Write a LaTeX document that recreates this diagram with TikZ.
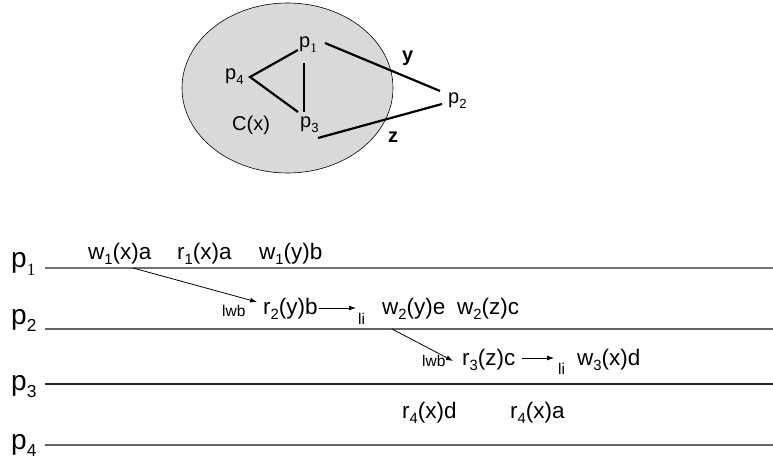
\documentclass[tikz,border=0pt]{standalone}
\usepackage{fontspec}
\usepackage{graphicx}
\setmainfont{Liberation Sans}
\newfontfamily\serifone{Liberation Serif}
\usetikzlibrary{arrows.meta,shapes.geometric}
\newcommand\sbs[1]{\raisebox{-0.25em}{\scalebox{0.66}{#1}}}
\newcommand\sbp[1]{\raisebox{-0.28em}{\scalebox{0.62}{#1}}}
\definecolor{regfill}{HTML}{D9D9D9}
\begin{document}
\begin{tikzpicture}[x=1pt,y=-1pt,
  ev/.style={inner sep=0pt,anchor=base west,font=\fontsize{22.5}{22.5}\selectfont},
  sm/.style={inner sep=0pt,anchor=base west,font=\fontsize{15.5}{15.5}\selectfont},
  pl/.style={inner sep=0pt,anchor=base west,font=\fontsize{28}{28}\selectfont},
  gl/.style={inner sep=0pt,anchor=base west,font=\fontsize{20}{20}\selectfont},
  edge/.style={line width=2.2pt},
  tl/.style={line width=1.3pt},
  arr/.style={line width=0.8pt,-{Latex[length=7pt,width=5pt]}}]
\useasboundingbox (0,0) rectangle (773,462);

% region C(x)
\node[ellipse,draw=black,line width=0.6pt,fill=regfill,minimum width=211pt,minimum height=170pt,inner sep=0pt] (reg) at (287.5,88) {};

% graph labels
\node[gl] (gp1) at (299,48) {p\sbs{\serifone 1}};
\node[gl] (gp4) at (225,80) {p\sbs{4}};
\node[gl] (gp3) at (300,128) {p\sbs{3}};
\node[gl] (gp2) at (448,104) {p\sbs{2}};
\node[gl] (gcx) at (232,131) {C(x)};
\node[gl,font=\fontsize{20}{20}\selectfont\bfseries] (gy) at (402,62) {y};
\node[gl,font=\fontsize{20}{20}\selectfont\bfseries] (gz) at (388,143) {z};

% graph edges
\coordinate (e14a) at (298,50);
\coordinate (e4) at (250,77);
\coordinate (e43b) at (298,112);
\coordinate (e13a) at (304,63);
\coordinate (e13b) at (304,112);
\coordinate (e12a) at (325,43);
\coordinate (e12b) at (440,91);
\coordinate (e32a) at (318,138);
\coordinate (e32b) at (442,104);
\draw[edge] (e14a) -- (e4) -- (e43b);
\draw[edge] (e13a) -- (e13b);
\draw[edge] (e12a) -- (e12b);
\draw[edge] (e32a) -- (e32b);

% process labels
\node[pl] (P1) at (11,268) {p\sbp{\serifone 1}};
\node[pl] (P2) at (11,324) {p\sbp{2}};
\node[pl] (P3) at (11,390) {p\sbp{3}};
\node[pl] (P4) at (11,449) {p\sbp{4}};

% time lines
\coordinate (l1s) at (45,268); \coordinate (l1e) at (773,268);
\coordinate (l2s) at (45,329); \coordinate (l2e) at (773,329);
\coordinate (l3s) at (45,384); \coordinate (l3e) at (773,384);
\coordinate (l4s) at (45,445); \coordinate (l4e) at (773,445);
\draw[tl,color=black!55] (l1s) -- (l1e);
\draw[tl,color=black!60] (l2s) -- (l2e);
\draw[tl,color=black!85] (l3s) -- (l3e);
\draw[tl,color=black!60] (l4s) -- (l4e);

% p1 events
\node[ev] (w1xa) at (88,259) {w\sbs{1}(x)a};
\node[ev] (r1xa) at (177,259) {r\sbs{1}(x)a};
\node[ev] (w1yb) at (259,259) {w\sbs{1}(y)b};

% p2 events
\node[sm] (lwb2) at (222,316) {lwb};
\node[ev] (r2yb) at (263,314) {r\sbs{2}(y)b};
\node[sm] (li2) at (358,324) {li};
\node[ev] (w2ye) at (382,314) {w\sbs{2}(y)e};
\node[ev] (w2zc) at (457,314) {w\sbs{2}(z)c};

% p3 events
\node[sm] (lwb3) at (422,366) {lwb};
\node[ev] (r3zc) at (462,365) {r\sbs{3}(z)c};
\node[sm] (li3) at (558,374) {li};
\node[ev] (w3xd) at (577,365) {w\sbs{3}(x)d};

% p4 events
\node[ev] (r4xd) at (402,418) {r\sbs{4}(x)d};
\node[ev] (r4xa) at (510,418) {r\sbs{4}(x)a};

% arrows
\coordinate (a1s) at (133,268);
\coordinate (a1e) at (257,302);
\draw[arr] (a1s) -- (a1e);
\coordinate (a2s) at (319,308);
\coordinate (a2e) at (356,308);
\draw[arr] (a2s) -- (a2e);
\coordinate (a3s) at (392,329);
\coordinate (a3e) at (453,361);
\draw[arr] (a3s) -- (a3e);
\coordinate (a4s) at (522,358);
\coordinate (a4e) at (554,358);
\draw[arr] (a4s) -- (a4e);
\end{tikzpicture}
\end{document}
